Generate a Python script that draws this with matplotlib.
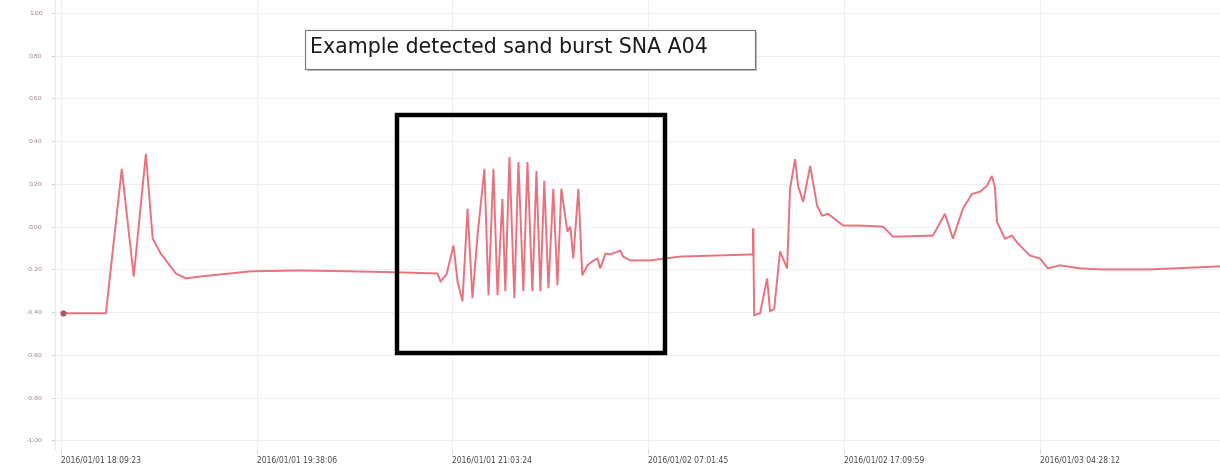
import matplotlib
matplotlib.use("Agg")
import matplotlib.pyplot as plt
from matplotlib.patches import Rectangle

# Sensor trace: sample index and signal level
sample_idx = [1.0, 23.0, 31.1, 37.2, 43.4, 46.9, 51.0, 58.7, 63.8, 71.4, 96.9, 122.4,
              148.0, 173.5, 192.3, 193.9, 197.0, 200.5, 202.6, 205.1, 207.7, 210.2,
              212.8, 216.3, 218.4, 220.9, 223.0, 225.5, 227.0, 229.1, 231.6, 233.7,
              236.2, 238.3, 240.8, 242.9, 244.9, 246.9, 249.0, 251.5, 253.6, 255.6,
              258.7, 260.2, 261.7, 264.3, 266.3, 268.9, 271.4, 274.0, 275.5, 278.1,
              280.6, 285.7, 287.2, 290.8, 301.0, 316.3, 353.6, 353.6, 354.1, 357.1,
              360.7, 362.2, 364.3, 367.3, 370.9, 372.4, 375.0, 376.5, 379.1, 382.7,
              386.2, 388.8, 391.8, 399.5, 408.2, 419.9, 425.0, 445.4, 451.5, 455.6,
              460.7, 465.3, 469.4, 473.0, 475.5, 477.0, 478.1, 482.1, 485.7, 488.8,
              494.9, 500.0, 504.1, 510.2, 520.4, 530.6, 556.1, 591.8]
signal = [-40.5, -40.5, 27.0, -23.3, 34.0, -5.6, -12.6, -21.9, -24.2, -23.3, -20.9, -20.5,
          -20.9, -21.4, -21.9, -25.6, -22.3, -8.8, -25.6, -34.9, 8.4, -33.5,
          -4.2, 27.0, -32.1, 27.0, -32.1, 13.0, -30.2, 32.6, -33.5, 30.2,
          -30.2, 30.2, -30.2, 26.0, -30.2, 21.4, -28.8, 17.7, -27.4, 17.7,
          -2.3, 0.0, -14.9, 17.7, -22.8, -18.1, -16.3, -14.9, -19.5, -12.6,
          -13.0, -11.2, -14.0, -15.8, -15.8, -14.0, -13.0, -0.9, -41.4, -40.5,
          -24.2, -39.5, -38.6, -11.6, -19.5, 17.7, 31.6, 19.1, 11.6, 28.4,
          9.8, 5.1, 6.0, 0.5, 0.5, 0.0, -4.7, -4.2, 6.0, -5.6,
          8.4, 15.3, 16.3, 19.1, 23.7, 18.6, 2.3, -5.6, -4.2, -7.9,
          -13.5, -14.9, -19.5, -18.1, -19.5, -20.0, -20.0, -18.6]

y_ticks = [100, 80, 60, 40, 20, 0, -20, -40, -60, -80, -100]
y_tick_labels = ["1.00", "0.80", "0.60", "0.40", "0.20", "0.00",
                 "-0.20", "-0.40", "-0.60", "-0.80", "-1.00"]
x_ticks = [0, 100, 200, 300, 400, 500]
x_tick_labels = ["2016/01/01 18:09:23", "2016/01/01 19:38:06", "2016/01/01 21:03:24",
                 "2016/01/02 07:01:45", "2016/01/02 17:09:59", "2016/01/03 04:28:12"]

title_text = "Example detected sand burst SNA A04"

W, H = 1220, 472
fig = plt.figure(figsize=(W / 100, H / 100), dpi=100)
ax = fig.add_axes([55 / W, 23 / H, 1 - 55 / W, 1 - 23 / H])

ax.plot(sample_idx, signal, color="#e8727e", lw=1.4, solid_joinstyle="miter")
ax.plot(sample_idx[0], signal[0], "o", color="#a85868", ms=3.5)

ax.set_xlim(-3, 592)
ax.set_ylim(-104, 106)
ax.set_yticks(y_ticks)
ax.set_yticklabels(y_tick_labels, fontsize=4.5, color="#9a7e88")
ax.set_xticks(x_ticks)
ax.set_xticklabels(x_tick_labels, fontsize=5.5, color="#444444", ha="left")
ax.tick_params(axis="both", length=3, width=0.6, color="#cccccc")
ax.tick_params(axis="x", pad=2)
ax.tick_params(axis="y", pad=6)
ax.grid(True, color="#f0f0f0", lw=0.8)
for s in ["top", "right", "bottom"]:
    ax.spines[s].set_visible(False)
ax.spines["left"].set_color("#e8e8e8")


def px(x, y):
    return x / W, 1 - y / H


# Title box with a soft shadow
x0, y0 = px(305, 69)
x1, y1 = px(755, 30)
fig.patches.append(Rectangle((x0 + 2 / W, y0 - 2 / H), x1 - x0, y1 - y0,
                             transform=fig.transFigure, facecolor="#bbbbbb",
                             edgecolor="none", zorder=5))
fig.patches.append(Rectangle((x0, y0), x1 - x0, y1 - y0, transform=fig.transFigure,
                             facecolor="white", edgecolor="#777777", lw=0.8, zorder=6))
tx, ty = px(310, 47)
fig.text(tx, ty, title_text, fontsize=14.8, color="#1a1a1a", va="center", ha="left",
         zorder=7)

# Highlight frame around the burst
bx0, by0 = px(397, 353)
bx1, by1 = px(665, 115)
fig.patches.append(Rectangle((bx0, by0), bx1 - bx0, by1 - by0, transform=fig.transFigure,
                             facecolor="none", edgecolor="black", lw=3.2, zorder=8))

fig.savefig("out.png", dpi=100)
